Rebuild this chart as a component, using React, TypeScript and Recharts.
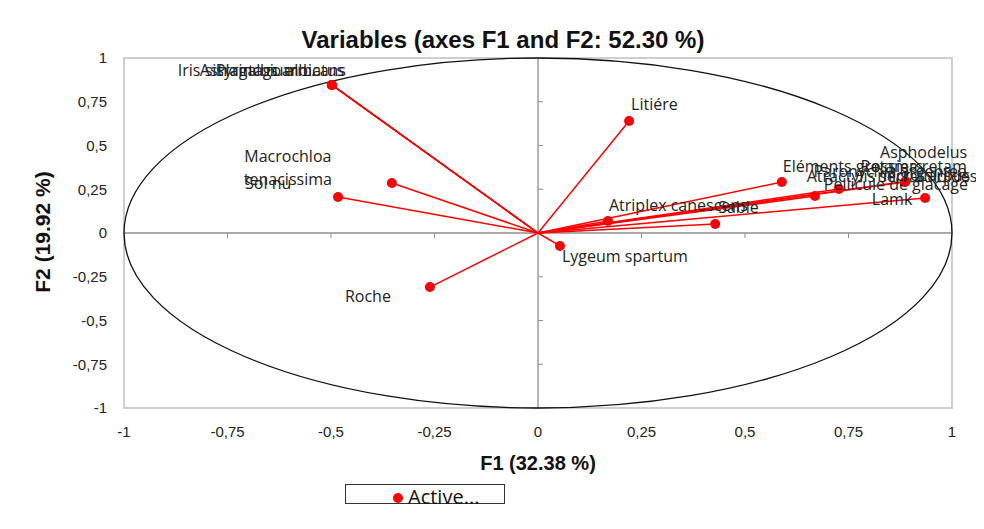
import React from 'react'
import {
  ScatterChart, Scatter, XAxis, YAxis, ReferenceLine, ReferenceArea, ReferenceDot,
} from 'recharts'

const variables = [
  'Iris sisyrinchium L.', 'Astragalus armatus', 'Plantago albicans',
  'Macrochloa tenacissima', 'Sol nu', 'Roche', 'Litiére', 'Lygeum spartum',
  'Atriplex canescens', 'Sable', 'Eléments grossiers', 'Retama retam',
  'Paronychia argentea', 'Pellicule de glacage', 'Asphodelus microcarpus',
  'Atractylis serratuloides Lamk',
]
const f1 = [-0.498, -0.498, -0.498, -0.353, -0.483, -0.261, 0.220, 0.053, 0.169, 0.428, 0.589, 0.886, 0.727, 0.669, 0.888, 0.935]
const f2 = [0.846, 0.846, 0.846, 0.286, 0.206, -0.309, 0.640, -0.074, 0.069, 0.051, 0.291, 0.291, 0.251, 0.211, 0.295, 0.200]
const ticks = [-1, -0.75, -0.5, -0.25, 0, 0.25, 0.5, 0.75, 1]

// label placement relative to the dot (px)
const labelPos: Record<string, { dx: number; dy: number; anchor: 'start' | 'middle' | 'end'; lines?: string[] }> = {
  'Iris sisyrinchium L.': { dx: -154, dy: -9, anchor: 'start' },
  'Astragalus armatus': { dx: -132, dy: -9, anchor: 'start' },
  'Plantago albicans': { dx: -116, dy: -9, anchor: 'start' },
  'Macrochloa tenacissima': { dx: -104, dy: -21, anchor: 'middle', lines: ['Macrochloa', 'tenacissima'] },
  'Sol nu': { dx: -93, dy: -8, anchor: 'start' },
  'Roche': { dx: -85, dy: 15, anchor: 'start' },
  'Litiére': { dx: 2, dy: -11, anchor: 'start' },
  'Lygeum spartum': { dx: 2, dy: 16, anchor: 'start' },
  'Atriplex canescens': { dx: 1, dy: -10, anchor: 'start' },
  'Sable': { dx: 3, dy: -11, anchor: 'start' },
  'Eléments grossiers': { dx: 1, dy: -10, anchor: 'start' },
  'Retama retam': { dx: 62, dy: -10, anchor: 'end' },
  'Paronychia argentea': { dx: 128, dy: -12, anchor: 'end' },
  'Pellicule de glacage': { dx: 153, dy: -6, anchor: 'end' },
  'Asphodelus microcarpus': { dx: 18, dy: -23, anchor: 'middle', lines: ['Asphodelus', 'microcarpus'] },
  'Atractylis serratuloides Lamk': { dx: -33, dy: -16, anchor: 'middle', lines: ['Atractylis serratuloides', 'Lamk'] },
}

const rows = variables.map((name, i) => ({ name, x: f1[i], y: f2[i] }))

const W = 984
const H = 529
const PLOT_W = 828
const PLOT_H = 350
const LABEL_FONT = '"Open Sans", "Noto Sans", sans-serif'
const AXIS_FONT = '"Liberation Sans Narrow", "Liberation Sans", Arial, sans-serif'
const fmt = (v: number) => String(v).replace('.', ',')

const VarDot = (props: any) => {
  const { cx, cy, payload } = props
  const pos = labelPos[payload.name]
  const lines = pos.lines ?? [payload.name]
  return (
    <g>
      <circle cx={cx} cy={cy} r={5} fill="#ff0000" />
      <text x={cx + pos.dx} y={cy + pos.dy} textAnchor={pos.anchor} fontSize={16} fontFamily={LABEL_FONT} fill="#222">
        {lines.map((l, k) => (
          <tspan key={k} x={cx + pos.dx} dy={k === 0 ? 0 : 23}>{l}</tspan>
        ))}
      </text>
    </g>
  )
}

export default function App() {
  return (
    <div style={{ position: 'relative', margin: -8, width: W, height: H, background: '#fff', overflow: 'hidden', fontFamily: AXIS_FONT }}>
      <div style={{ position: 'absolute', left: 5, top: 2, width: 973, height: 540, border: '1px solid #8c8c8c' }} />
      <div style={{ position: 'absolute', left: 203, width: 600, top: 26, textAlign: 'center', fontSize: 24, fontWeight: 'bold', color: '#111' }}>
        Variables (axes F1 and F2: 52.30 %)
      </div>
      <div style={{ position: 'absolute', left: 438, width: 200, top: 452, textAlign: 'center', fontSize: 20, fontWeight: 'bold', color: '#111' }}>
        F1 (32.38 %)
      </div>
      <div style={{ position: 'absolute', left: -57, width: 200, top: 220, textAlign: 'center', fontSize: 21, fontWeight: 'bold', color: '#111', transform: 'rotate(-90deg)', fontFamily: '"Liberation Sans", Arial, sans-serif' }}>
        F2 (19.92 %)
      </div>
      <div style={{ position: 'absolute', left: 345, top: 484, width: 158, height: 18, border: '1px solid #333' }}>
        <div style={{ position: 'absolute', left: 47, top: 8, width: 10, height: 10, borderRadius: 5, background: '#ff0000' }} />
        <div style={{ position: 'absolute', left: 62, top: -2, fontSize: 20, fontFamily: LABEL_FONT, color: '#111', whiteSpace: 'nowrap' }}>Active...</div>
      </div>
      <div style={{ position: 'absolute', left: 0, top: 0 }}>
        <ScatterChart width={W} height={H} margin={{ top: 58, right: 32, bottom: 91, left: 64 }}>
          <XAxis type="number" dataKey="x" domain={[-1, 1]} ticks={ticks} tickFormatter={fmt}
            axisLine={false} tickLine={false} tickMargin={12} height={30}
            tick={{ fontSize: 15, fill: '#222', fontFamily: AXIS_FONT }} />
          <YAxis type="number" dataKey="y" domain={[-1, 1]} ticks={ticks} tickFormatter={fmt}
            axisLine={false} tickLine={false} tickMargin={11} width={60}
            tick={{ fontSize: 15, fill: '#222', fontFamily: AXIS_FONT }} />
          <ReferenceArea x1={-1} x2={1} y1={-1} y2={1} fill="none" stroke="#bfbfbf" strokeWidth={1.5} />
          <ReferenceDot x={0} y={0} r={1} shape={(p: any) => (
            <ellipse cx={p.cx} cy={p.cy} rx={PLOT_W / 2} ry={PLOT_H / 2} fill="none" stroke="#111" strokeWidth={1.3} />
          )} />
          <ReferenceLine x={0} stroke="#8c8c8c" strokeWidth={1.3} />
          <ReferenceLine y={0} stroke="#8c8c8c" strokeWidth={1.3} />
          {ticks.filter(t => t !== 0 && Math.abs(t) !== 1).map(t => (
            <ReferenceDot key={'ty' + t} x={0} y={t} r={1} shape={(p: any) => (
              <line x1={p.cx} x2={p.cx + 5} y1={p.cy} y2={p.cy} stroke="#8c8c8c" />
            )} />
          ))}
          {ticks.filter(t => t !== 0 && Math.abs(t) !== 1).map(t => (
            <ReferenceDot key={'tx' + t} x={t} y={0} r={1} shape={(p: any) => (
              <line x1={p.cx} x2={p.cx} y1={p.cy} y2={p.cy + 5} stroke="#8c8c8c" />
            )} />
          ))}
          {rows.map(r => (
            <ReferenceLine key={'seg' + r.name} segment={[{ x: 0, y: 0 }, { x: r.x, y: r.y }]} stroke="#ff0000" strokeWidth={1.5} />
          ))}
          <Scatter data={rows} isAnimationActive={false} shape={VarDot} />
        </ScatterChart>
      </div>
    </div>
  )
}
